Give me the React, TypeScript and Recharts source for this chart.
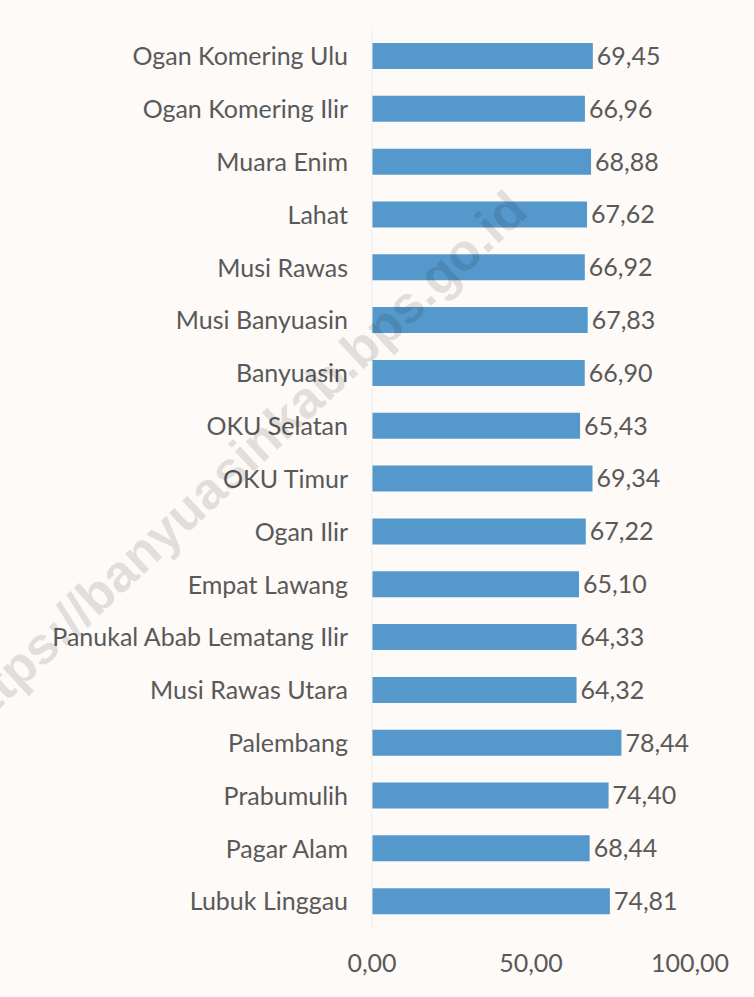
import React from 'react';
import { BarChart, Bar, XAxis, YAxis, LabelList } from 'recharts';

const regions = [
  'Ogan Komering Ulu',
  'Ogan Komering Ilir',
  'Muara Enim',
  'Lahat',
  'Musi Rawas',
  'Musi Banyuasin',
  'Banyuasin',
  'OKU Selatan',
  'OKU Timur',
  'Ogan Ilir',
  'Empat Lawang',
  'Panukal Abab Lematang Ilir',
  'Musi Rawas Utara',
  'Palembang',
  'Prabumulih',
  'Pagar Alam',
  'Lubuk Linggau',
];

const values = [
  69.45, 66.96, 68.88, 67.62, 66.92, 67.83, 66.9, 65.43, 69.34, 67.22, 65.1, 64.33, 64.32, 78.44, 74.4,
  68.44, 74.81,
];

const xTicks = [0, 50, 100];

const data = regions.map((name, i) => ({ name, value: values[i] }));

const fmt = (v: number) => v.toFixed(2).replace('.', ',');

const FONT = 'Lato, "Liberation Sans", sans-serif';
const TEXT = '#595959';

export default function App() {
  return (
    <div
      style={{
        position: 'absolute',
        left: 0,
        top: 0,
        width: 754,
        height: 997,
        background: '#fdfaf7',
        overflow: 'hidden',
        fontFamily: FONT,
      }}
    >
      <BarChart
        width={754}
        height={997}
        data={data}
        layout="vertical"
        margin={{ top: 30, right: 64, bottom: 0, left: 0 }}
      >
        <XAxis
          type="number"
          domain={[0, 100]}
          ticks={xTicks}
          tickFormatter={fmt}
          axisLine={false}
          tickLine={false}
          tickMargin={20}
          height={69}
          tick={{ fill: TEXT, fontSize: 25, fontFamily: FONT }}
        />
        <YAxis
          type="category"
          dataKey="name"
          width={372}
          axisLine={{ stroke: '#efedeb' }}
          tickLine={false}
          tickMargin={18}
          interval={0}
          tick={{ fill: TEXT, fontSize: 25, fontFamily: FONT }}
        />
        <Bar dataKey="value" fill="#5599cc" barSize={26} isAnimationActive={false}>
          <LabelList
            dataKey="value"
            position="right"
            offset={4}
            formatter={(v: any) => fmt(Number(v))}
            fill={TEXT}
            fontSize={25}
            fontFamily={FONT}
          />
        </Bar>
      </BarChart>
      <svg
        width={754}
        height={997}
        style={{ position: 'absolute', left: 0, top: 0, pointerEvents: 'none' }}
      >
        <text
          x={530}
          y={214}
          textAnchor="end"
          transform="rotate(-43 530 214)"
          fontSize={52}
          fontWeight="bold"
          fontFamily='"Liberation Sans", Arial, sans-serif'
          fill="rgba(0,0,0,0.11)"
        >
          https://banyuasinkab.bps.go.id
        </text>
      </svg>
    </div>
  );
}
